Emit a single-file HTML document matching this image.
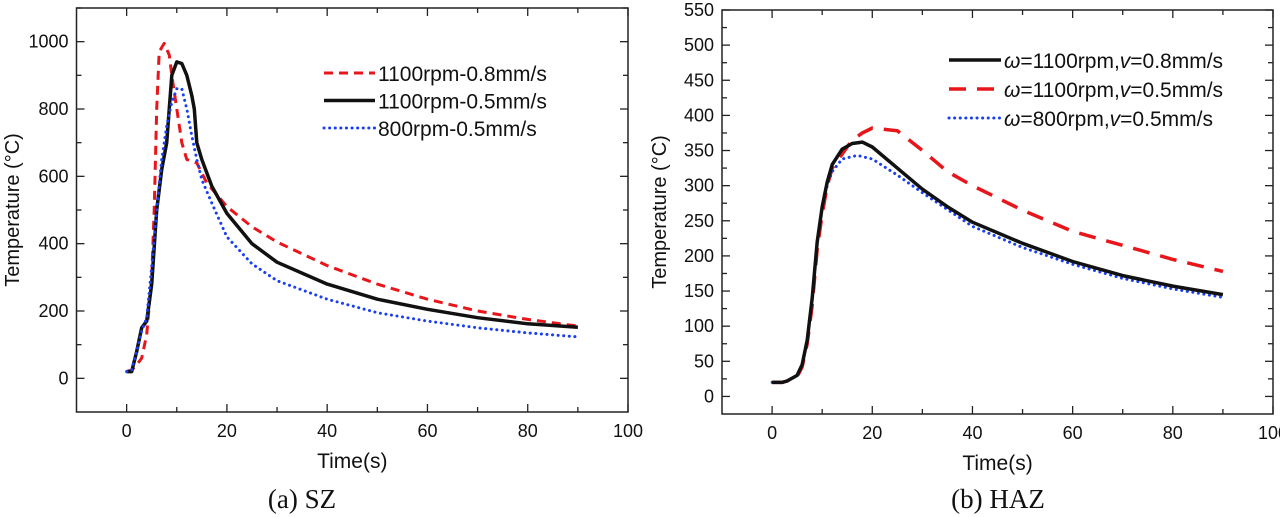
<!DOCTYPE html>
<html><head><meta charset="utf-8"><style>
html,body{margin:0;padding:0;background:#fff;width:1280px;height:517px;overflow:hidden}
svg{display:block}
text{font-family:"Liberation Sans",Arial,sans-serif;fill:#111}
.cap{font-family:"Liberation Serif","Times New Roman",serif;font-size:27px}
</style></head><body>
<svg id="fig" width="1280" height="517" viewBox="0 0 1280 517">
<text class="cap" x="302" y="508" text-anchor="middle">(a) SZ</text>
<text class="cap" x="998" y="508" text-anchor="middle">(b) HAZ</text>
</svg>
<script>
// ---- Panel A data (SZ) ----
const aRedT=[0,1,2,3,4,5,5.5,6,6.5,7.5,8.5,9,10,11,12,14,16,20,25,30,35,40,50,60,70,80,90];
const aRedV=[20,25,40,60,130,300,500,800,970,995,960,900,800,700,650,640,580,510,450,405,370,335,280,235,200,175,155];
const aBlkT=[0,1,2,3,4,5,6,7,8,9,10,11,12,13,13.5,14,15,17,20,25,30,40,50,60,70,80,90];
const aBlkV=[20,20,80,150,170,280,500,620,700,900,940,935,900,840,800,700,650,570,490,400,345,280,235,205,180,162,152];
const aBluT=[0,1,2,3,4,5,6,7,8,9,10,11,12,13,14,15,17,20,25,30,40,50,60,70,80,90];
const aBluV=[20,25,80,140,180,330,500,650,750,820,860,860,800,720,650,590,520,420,340,290,235,195,170,150,135,123];
const aYTicks=[0,200,400,600,800,1000];
const aXTicks=[0,20,40,60,80,100];
const aLegend=["1100rpm-0.8mm/s","1100rpm-0.5mm/s","800rpm-0.5mm/s"];
// ---- Panel B data (HAZ) ----
const bBlkT=[0,2,3,5,6,7,8,9,10,11,12,14,16,18,20,25,30,35,40,50,60,70,80,90];
const bBlkV=[20,20,22,30,45,80,140,220,270,305,330,352,360,362,355,325,295,270,248,218,192,172,157,145];
const bRedT=[0,2,3,5,6,7,8,9,10,11,12,14,16,18,20,25,30,35,40,50,60,70,80,90];
const bRedV=[20,20,22,28,42,75,130,210,260,300,325,345,365,375,382,378,350,320,300,265,235,215,195,178];
const bBluT=[0,2,3,5,6,7,8,9,10,11,12,14,17,20,25,30,40,50,60,70,80,90];
const bBluV=[20,20,22,30,45,80,140,220,270,300,320,338,343,338,315,290,242,212,188,168,153,141];
const bYTicks=[0,50,100,150,200,250,300,350,400,450,500,550];
const bXTicks=[0,20,40,60,80,100];

const NS="http://www.w3.org/2000/svg";
const svg=document.getElementById('fig');
function mk(tag,attrs,parent){const e=document.createElementNS(NS,tag);for(const k in attrs)e.setAttribute(k,attrs[k]);(parent||svg).appendChild(e);return e;}

function panel(o){
  const sx=v=>o.L+(v-o.xmin)/(o.xmax-o.xmin)*(o.R-o.L);
  const sy=v=>o.B-(v-o.ymin)/(o.ymax-o.ymin)*(o.B-o.T);
  const g=mk('g',{});
  
  
  const fr=mk('rect',{x:o.L,y:o.T,width:o.R-o.L,height:o.B-o.T,fill:'none',stroke:'#222','stroke-width':1.5},g);
  
  
  for(let v=0;v<=o.xmax;v+=o.xminor){
    const major=o.xTicks.includes(v);const len=major?8:5;const x=sx(v);
    mk('line',{x1:x,x2:x,y1:o.B,y2:o.B-len,stroke:'#222','stroke-width':1.3},g);
    mk('line',{x1:x,x2:x,y1:o.T,y2:o.T+len,stroke:'#222','stroke-width':1.3},g);
  }
  o.xTicks.forEach(v=>{const t=mk('text',{x:sx(v),y:o.B+25,'text-anchor':'middle','font-size':18},g);t.textContent=v;
    });
  for(let v=o.yTicks[0];v<=o.ymax;v+=o.yminor){
    const major=o.yTicks.includes(v);const len=major?8:5;const y=sy(v);
    mk('line',{x1:o.L,x2:o.L+len,y1:y,y2:y,stroke:'#222','stroke-width':1.3},g);
    mk('line',{x1:o.R,x2:o.R-len,y1:y,y2:y,stroke:'#222','stroke-width':1.3},g);
  }
  o.yTicks.forEach(v=>{const t=mk('text',{x:o.L-8,y:sy(v)+6,'text-anchor':'end','font-size':18},g);t.textContent=v;
    });
  const xt=mk('text',{x:(o.L+o.R)/2,y:o.B+56,'text-anchor':'middle','font-size':21},g);xt.textContent='Time(s)';
  
  const cy=(o.T+o.B)/2;
  const yt=mk('text',{x:o.ytx,y:cy,'text-anchor':'middle','font-size':20,transform:`rotate(-90 ${o.ytx} ${cy})`},g);yt.textContent='Temperature (°C)';
  
  o.series.forEach(s=>{
    const d=s.t.map((t,i)=>(i?'L':'M')+sx(t).toFixed(1)+','+sy(s.v[i]).toFixed(1)).join(' ');
    const p=mk('path',{d:d,fill:'none',stroke:s.c,'stroke-width':s.w,'stroke-dasharray':s.da||'none','stroke-linejoin':'round','stroke-linecap':s.cap||'butt'},g);
    
    
  });
  o.legend.forEach((l,i)=>{
    const y=o.legY+i*o.legDy;
    const s=o.series[l.si];
    mk('line',{x1:o.legX,x2:o.legX+o.legW,y1:y,y2:y,stroke:s.c,'stroke-width':s.w,'stroke-dasharray':s.da||'none','stroke-linecap':s.cap||'butt'},g);
    const t=mk('text',{x:o.legX+o.legW+3,y:y+8,'font-size':21},g);
    t.innerHTML=l.label;
    
    
  });
}
panel({name:'panel-sz',L:76.5,R:628,T:8,B:412,xmin:-10,xmax:100,ymin:-100,ymax:1100,xTicks:aXTicks,xminor:10,yTicks:aYTicks,yminor:100,ytx:19,
  series:[
    {t:aRedT,v:aRedV,c:'#e8161b',w:3,da:'9,6',nm:'series-1100rpm-0.8'},
    {t:aBlkT,v:aBlkV,c:'#111',w:3.5,nm:'series-1100rpm-0.5'},
    {t:aBluT,v:aBluV,c:'#1a3ff0',w:3,da:'0.1,5.5',cap:'round',nm:'series-800rpm-0.5'}],
  legend:[{si:0,label:aLegend[0]},{si:1,label:aLegend[1]},{si:2,label:aLegend[2]}],
  legX:324,legW:51,legY:73,legDy:27.5});
panel({name:'panel-haz',L:722,R:1273,T:10,B:414,xmin:-10,xmax:100,ymin:-25,ymax:550,xTicks:bXTicks,xminor:10,yTicks:bYTicks,yminor:25,ytx:666,
  series:[
    {t:bRedT,v:bRedV,c:'#e8161b',w:3.5,da:'17,11',nm:'series-w1100-v0.5'},
    {t:bBluT,v:bBluV,c:'#1a3ff0',w:3,da:'0.1,5.5',cap:'round',nm:'series-w800-v0.5'},
    {t:bBlkT,v:bBlkV,c:'#111',w:3.5,nm:'series-w1100-v0.8'}],
  legend:[{si:2,label:'<tspan font-style="italic">ω</tspan>=1100rpm,<tspan font-style="italic">v</tspan>=0.8mm/s'},
          {si:0,label:'<tspan font-style="italic">ω</tspan>=1100rpm,<tspan font-style="italic">v</tspan>=0.5mm/s'},
          {si:1,label:'<tspan font-style="italic">ω</tspan>=800rpm,<tspan font-style="italic">v</tspan>=0.5mm/s'}],
  legX:949,legW:52,legY:60,legDy:29});
</script>
</body></html>
